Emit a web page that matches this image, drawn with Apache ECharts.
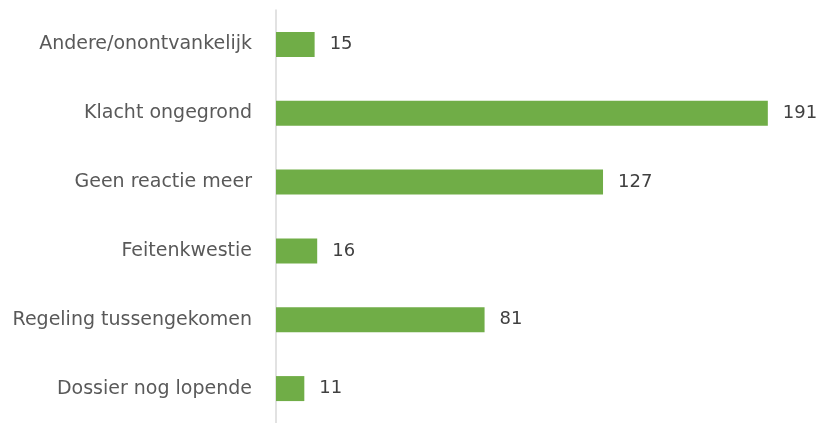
<!DOCTYPE html>
<html><head><meta charset="utf-8">
<script src="https://cdn.jsdelivr.net/npm/echarts@6/dist/echarts.min.js"></script>
<style>html,body{margin:0;padding:0;background:#fff}#c{width:824px;height:423px}</style>
</head><body><div id="c"></div>
<script>
const categories = ["Andere/onontvankelijk","Klacht ongegrond","Geen reactie meer","Feitenkwestie","Regeling tussengekomen","Dossier nog lopende"];
const values = [15,191,127,16,81,11];
const chart = echarts.init(document.getElementById('c'));
chart.setOption({
  animation:false,
  grid:{left:276,top:10,width:515,height:420},
  xAxis:{type:'value',min:0,max:200,show:false},
  yAxis:{type:'category',inverse:true,data:categories,
    axisLine:{show:true,lineStyle:{color:'#d9d9d9',width:1.5}},
    axisTick:{show:false},
    axisLabel:{color:'#595959',fontFamily:'DejaVu Sans',fontSize:19,margin:24}},
  series:[{type:'bar',data:values,barWidth:25,
    itemStyle:{color:'#70ad47'},
    label:{show:true,position:'right',distance:15,color:'#404040',fontFamily:'DejaVu Sans',fontSize:18}}]
});
</script></body></html>
